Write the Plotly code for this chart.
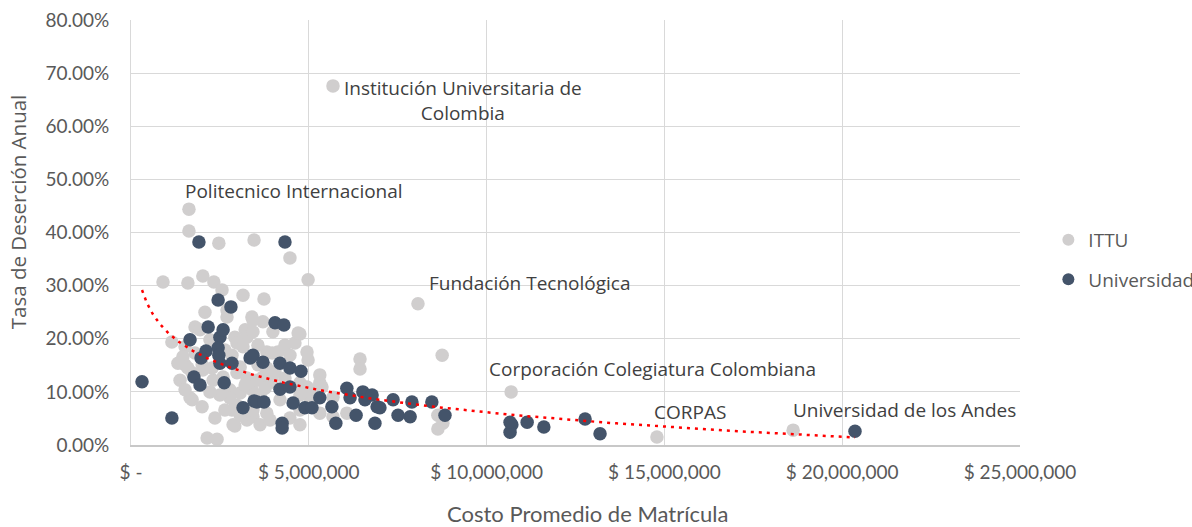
import numpy as np
import plotly.graph_objects as go

# ---------------- data (x in millions of pesos, y in % annual dropout) -------------
ittu_costo_mill = [5.68, 1.63, 1.63, 2.47, 3.46, 0.90, 1.60, 2.02, 2.33, 2.56, 3.15, 3.74, 4.98, 4.47,
                   8.07, 8.75, 6.44, 6.44, 10.69, 14.79, 18.62, 8.63, 8.63, 8.77, 2.14, 2.42,
                   2.08, 1.80, 2.70, 3.40, 3.71, 3.21, 2.92, 3.26, 3.99, 4.75,
                   4.61, 4.95, 4.98, 4.13, 3.82, 2.98, 3.15, 1.15, 1.52, 1.80,
                   1.52, 1.72, 2.02, 2.31, 2.59, 2.98, 3.26, 3.71, 3.97, 2.78,
                   3.07, 3.40, 3.63, 2.98, 3.35, 3.82, 3.26, 2.92, 1.72, 2.00,
                   5.31, 5.31, 5.68, 4.95, 4.75, 5.31, 3.43, 3.43, 3.97, 4.70,
                   3.82, 3.54, 3.91, 5.37, 6.07, 3.43, 5.03, 5.68, 2.70, 1.46,
                   1.60, 2.00, 2.28, 3.07, 1.66, 2.87, 3.43, 2.78, 2.84, 1.32,
                   2.64, 2.84, 3.57, 4.33, 4.47, 3.57, 4.05, 4.33, 4.75, 3.21,
                   3.77, 4.19, 4.75, 5.17, 2.50, 2.22, 2.64, 2.36, 3.07, 3.63,
                   3.91, 4.47, 4.75, 1.38, 1.52, 2.22, 1.94]
ittu_desercion = [67.6, 44.4, 40.3, 38.0, 38.6, 30.7, 30.5, 31.8, 30.7, 29.2, 28.2, 27.5, 31.1, 35.2,
                  26.6, 16.9, 16.2, 14.3, 10.0, 1.5, 2.8, 5.6, 3.0, 4.1, 1.3, 1.1,
                  25.0, 22.2, 24.1, 24.1, 23.2, 21.7, 20.3, 20.3, 21.3, 20.9,
                  19.2, 17.5, 16.0, 17.5, 17.5, 19.2, 18.5, 19.4, 18.5, 17.3,
                  15.1, 13.6, 14.1, 12.2, 12.8, 13.6, 12.6, 12.8, 12.2, 10.4,
                  9.8, 10.4, 9.4, 7.5, 6.6, 6.0, 4.7, 3.6, 8.5, 7.2,
                  13.2, 11.7, 9.0, 10.9, 6.6, 6.0, 23.5, 21.3, 17.3, 21.1,
                  14.5, 12.2, 11.7, 10.9, 6.0, 5.3, 8.9, 5.3, 25.4, 16.6,
                  14.5, 15.1, 14.5, 14.7, 8.9, 3.8, 6.6, 8.9, 6.6, 15.4,
                  17.9, 16.9, 18.8, 18.8, 16.9, 15.1, 13.7, 12.6, 11.7, 11.3,
                  10.7, 8.5, 9.4, 10.4, 9.4, 10.0, 6.6, 5.1, 5.6, 3.8,
                  4.7, 5.1, 3.8, 12.2, 10.4, 19.8, 21.7]

univ_costo_mill = [0.31, 1.15, 1.91, 4.33, 1.66, 2.17, 2.45, 2.81, 2.50, 2.59,
                   2.11, 1.97, 2.45, 2.50, 2.84, 3.35, 3.43, 2.62, 1.77, 1.94,
                   3.15, 3.46, 4.05, 4.30, 3.71, 4.19, 4.47, 4.78, 4.19, 4.47,
                   3.54, 3.74, 4.56, 4.89, 5.09, 4.25, 4.25, 5.65, 5.76, 5.31,
                   6.07, 6.16, 6.52, 6.58, 6.33, 6.92, 6.86, 6.78, 7.00, 7.37,
                   7.51, 7.85, 7.90, 8.46, 8.83, 10.71, 10.66, 10.66, 11.14, 11.61,
                   12.77, 13.19, 20.36, 2.47]
univ_desercion = [11.9, 5.1, 38.2, 38.2, 19.8, 22.2, 27.3, 26.0, 20.3, 21.7,
                  17.7, 16.4, 18.3, 15.4, 15.4, 16.4, 16.9, 11.7, 12.8, 11.3,
                  7.0, 8.3, 23.0, 22.6, 15.6, 15.4, 14.5, 13.9, 10.5, 10.9,
                  8.1, 8.1, 7.9, 7.0, 7.0, 4.1, 3.2, 7.2, 4.1, 8.9,
                  10.7, 8.9, 10.0, 8.5, 5.6, 7.2, 4.1, 9.4, 7.0, 8.5,
                  5.6, 5.3, 8.1, 8.1, 5.6, 3.8, 2.4, 4.3, 4.3, 3.4,
                  4.9, 2.1, 2.6, 16.9]

# logarithmic trend line: y% = a + b * ln(cost in pesos)
trend_a = 113.0
trend_b = -6.63

# labelled institutions: (name, cost in millions, dropout %)
label_names = ["Institución Universitaria de<br>Colombia", "Politecnico Internacional",
               "Fundación Tecnológica", "Corporación Colegiatura Colombiana",
               "CORPAS", "Universidad de los Andes"]
label_costo_mill = [5.68, 1.63, 8.07, 10.69, 14.79, 20.36]
label_desercion = [67.6, 44.4, 26.6, 10.0, 1.5, 2.6]

x_tickvals = [0, 5e6, 10e6, 15e6, 20e6, 25e6]
x_ticktext = ["$ -", "$ 5,000,000", "$ 10,000,000", "$ 15,000,000", "$ 20,000,000", "$ 25,000,000"]
y_tickvals = [0, 10, 20, 30, 40, 50, 60, 70, 80]
y_ticktext = ["0.00%", "10.00%", "20.00%", "30.00%", "40.00%", "50.00%", "60.00%", "70.00%", "80.00%"]

# ---------------------------------------------------------------------------------
ittu_x = np.array(ittu_costo_mill) * 1e6
univ_x = np.array(univ_costo_mill) * 1e6

all_x = np.concatenate([ittu_x, univ_x])
tx = np.geomspace(all_x.min(), all_x.max(), 200)
ty = trend_a + trend_b * np.log(tx)

GRAY = "#D0CECE"
NAVY = "#44546A"
TXT = "#595959"
ANN = "#404040"
GRID = "#D9D9D9"

fig = go.Figure()
fig.add_trace(go.Scatter(x=ittu_x, y=ittu_desercion, mode="markers", name="ITTU",
                         legendgroup="a",
                         marker=dict(color=GRAY, size=13.5, line=dict(width=0))))
fig.add_trace(go.Scatter(x=univ_x, y=univ_desercion, mode="markers", name="Universidad",
                         legendgroup="b",
                         marker=dict(color=NAVY, size=13.5, line=dict(width=0))))
fig.add_trace(go.Scatter(x=tx, y=ty, mode="lines", showlegend=False, hoverinfo="skip",
                         line=dict(color="#FF0000", width=2.5, dash="3px,5px")))

shifts = [(9, 0, "top", 13), (-6, 18, "middle", 0), (9, 21, "middle", 0),
          (-24, 23, "middle", 0), (-5, 25, "middle", 0), (-64, 21, "middle", 0)]
for name, cx, cy, (xs, ys, ya, extra) in zip(label_names, label_costo_mill, label_desercion, shifts):
    fig.add_annotation(x=cx * 1e6, y=cy, xref="x", yref="y", text=name, showarrow=False,
                       xanchor="left", yanchor=ya, align="center",
                       xshift=xs, yshift=ys + extra,
                       font=dict(family="Open Sans", size=19, color=ANN))

# axis titles as annotations (placed where the reference shows them)
fig.add_annotation(text="Tasa de Deserción Anual", xref="paper", yref="paper",
                   x=-0.127, y=0.548, xanchor="center", yanchor="middle",
                   textangle=-90, showarrow=False,
                   font=dict(family="Open Sans", size=20.5, color=TXT))
fig.add_annotation(text="Costo Promedio de Matrícula", xref="paper", yref="paper",
                   x=0.513, y=-0.16, xanchor="center", yanchor="middle",
                   showarrow=False,
                   font=dict(family="Lato", size=22, color=TXT))

fig.update_layout(
    width=1192, height=527,
    margin=dict(l=131, r=172, t=20, b=82),
    paper_bgcolor="white", plot_bgcolor="white",
    showlegend=True,
    legend=dict(xref="container", yref="container", x=0.8795, xanchor="left",
                y=0.581, yanchor="top",
                font=dict(family="Open Sans", size=19, color=TXT),
                tracegroupgap=12, itemsizing="constant", bgcolor="rgba(0,0,0,0)"),
    font=dict(family="Lato", color=TXT),
)
fig.update_xaxes(range=[0, 25e6], tickvals=x_tickvals, ticktext=x_ticktext,
                 showgrid=True, gridcolor=GRID, gridwidth=1, zeroline=False,
                 showline=True, linecolor="#C8C8C8", linewidth=1.5,
                 ticks="", ticklabelstandoff=9, automargin=False,
                 tickfont=dict(family="Lato", size=19, color=TXT))
fig.update_yaxes(range=[0, 80], tickvals=y_tickvals, ticktext=y_ticktext,
                 showgrid=True, gridcolor=GRID, gridwidth=1, zeroline=False,
                 showline=True, linecolor=GRID, linewidth=1,
                 ticks="", ticklabelstandoff=17, automargin=False,
                 tickfont=dict(family="Lato", size=19, color=TXT))

fig.write_html("out.html", config={"displayModeBar": False},
               post_script="document.body.style.margin='0';")
